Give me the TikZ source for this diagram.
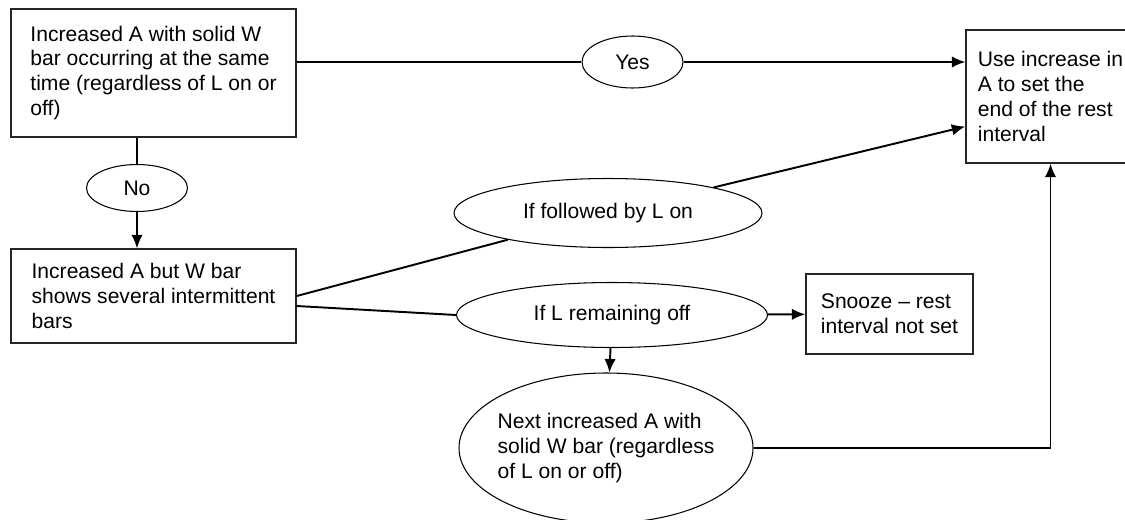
\documentclass[tikz,border=0pt]{standalone}
\usepackage{fontspec}
\setmainfont{Liberation Sans}
\usetikzlibrary{arrows,arrows.meta,calc,shapes.geometric}
\tikzset{>={Latex[length=2.7mm,width=2.3mm]}}
\tikzstyle{statebox}=[rectangle,draw=black!85,line width=0.8pt,align=left,inner sep=0pt]
\tikzstyle{choice}=[ellipse,draw=black,line width=0.6pt,align=left,inner sep=-1cm]
\tikzstyle{link}=[line width=1.1pt,black]

\begin{document}
\begin{tikzpicture}[font=\fontsize{12pt}{14.2pt}\selectfont]
	\useasboundingbox (0,0) rectangle (22.5,10.38);

	\node[statebox, minimum width=5.7cm, minimum height=2.56cm] (inc) at (3.07,8.92) {Increased A with solid W\\bar occurring at the same\\time (regardless of L on or\\off)};
	\node[choice, minimum width=2.02cm, minimum height=1.04cm] (yes) at (12.65,9.14) {Yes};
	\node[statebox, minimum width=3.38cm, minimum height=2.66cm] (use) at (21.01,8.45) {Use increase in\\A to set the\\end of the rest\\interval};
	\node[choice, minimum width=2.02cm, minimum height=0.94cm] (no) at (2.74,6.62) {No};
	\node[statebox, minimum width=5.7cm, minimum height=1.88cm] (bars) at (3.07,4.46) {Increased A but W bar\\shows several intermittent\\bars};
	\node[choice, minimum width=6.16cm, minimum height=1.38cm] (follow) at (12.16,6.12) {If followed by L on};
	\node[choice, minimum width=6.22cm, minimum height=1.30cm] (remain) at (12.24,4.08) {If L remaining off};
	\node[statebox, minimum width=3.34cm, minimum height=1.60cm] (snooze) at (17.79,4.10) {Snooze -- rest\\interval not set};
	\node[choice, minimum width=5.88cm, minimum height=3.0cm] (next) at (12.12,1.42) {Next increased A with\\solid W bar (regardless\\of L on or off)};

	% top row
	\draw[link] (yes.west -| inc.east) -- (yes.west);
	\draw[link,->] (yes) -- (yes -| use.west);
	\draw[link] (no.north |- inc.south) -- (no);
	\draw[link,->] (no) -- (no.south |- bars.north);

	% intermittent bars
	\draw[link] (bars.east) -- (follow);
	\draw[link,->] (follow) -- ([yshift=-0.6cm]use.west);
	\draw[link] ([yshift=-0.2cm]bars.east) -- (remain.west);
	\draw[link,->] (remain) -- (snooze);
	\draw[link,->] (remain) -- (next);
	\draw[link,->] (next.east) -| (use.south);
\end{tikzpicture}
\end{document}
